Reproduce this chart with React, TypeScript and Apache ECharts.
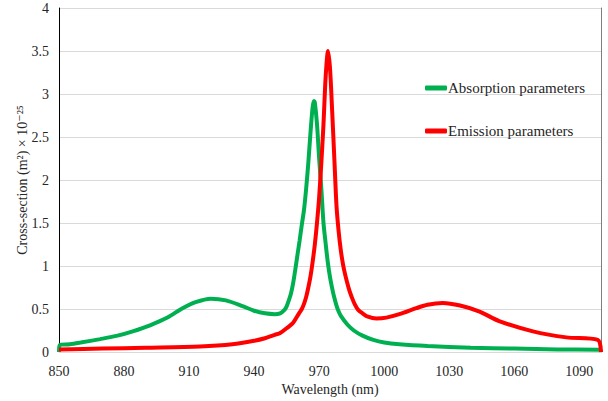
import React, { useEffect, useRef } from "react";
import * as echarts from "echarts";

const absorptionWl = [850, 850.3, 855, 860, 869, 877, 884, 892, 900, 907, 913, 920, 927, 935, 940, 945, 949.5, 952, 954, 955, 956, 957, 958, 959, 960, 961, 962, 963, 964, 965, 966, 967, 967.6, 968, 969, 970, 971, 972, 973, 974, 975, 976, 977, 978, 979, 980, 983, 986, 990, 995, 1000, 1007, 1020, 1040, 1060, 1080, 1099.5, 1100];
const absorptionVal = [0, 0.08, 0.09, 0.11, 0.15, 0.19, 0.24, 0.31, 0.4, 0.51, 0.58, 0.62, 0.6, 0.53, 0.48, 0.45, 0.44, 0.45, 0.49, 0.53, 0.6, 0.68, 0.8, 0.96, 1.13, 1.3, 1.48, 1.65, 1.9, 2.2, 2.55, 2.85, 2.92, 2.9, 2.65, 2.25, 1.9, 1.5, 1.26, 1.04, 0.87, 0.74, 0.63, 0.54, 0.47, 0.42, 0.32, 0.25, 0.19, 0.14, 0.11, 0.09, 0.07, 0.05, 0.04, 0.03, 0.027, 0];

const emissionWl = [850, 870, 890, 915, 930, 940, 945, 949.5, 952, 955.7, 958, 960, 961, 962, 963, 964, 965, 966, 967, 968, 969, 970, 971, 972, 973, 974.1, 975, 976, 977, 978, 979, 980, 981, 982, 983, 984, 985, 986.5, 988, 990, 992.5, 996.4, 1001, 1007, 1014.8, 1020, 1027, 1035, 1044, 1053, 1068.6, 1084, 1098.5, 1100];
const emissionVal = [0.03, 0.04, 0.05, 0.065, 0.09, 0.13, 0.16, 0.2, 0.22, 0.29, 0.34, 0.42, 0.46, 0.5, 0.56, 0.64, 0.75, 0.88, 1.05, 1.25, 1.5, 1.8, 2.2, 2.65, 3.2, 3.5, 3.3, 2.8, 2.25, 1.7, 1.4, 1.18, 1.02, 0.9, 0.8, 0.71, 0.64, 0.55, 0.49, 0.45, 0.41, 0.39, 0.4, 0.44, 0.51, 0.55, 0.57, 0.54, 0.47, 0.36, 0.24, 0.17, 0.14, 0];

const seriesNames = ["Absorption parameters", "Emission parameters"];
const seriesColors = ["#00b050", "#ff0000"];

const FONT = "'Liberation Serif', 'Times New Roman', Tinos, 'DejaVu Serif', serif";

export default function App() {
  const ref = useRef<HTMLDivElement>(null);
  useEffect(() => {
    if (!ref.current) return;
    const chart = echarts.init(ref.current, null, { renderer: "svg" });
    const absData = absorptionWl.map((w, i) => [w, absorptionVal[i]]);
    const emData = emissionWl.map((w, i) => [w, emissionVal[i]]);
    chart.setOption({
      animation: false,
      backgroundColor: "#ffffff",
      textStyle: { fontFamily: FONT },
      grid: { left: 59, right: 7, top: 8, bottom: 47, containLabel: false },
      legend: {
        orient: "vertical",
        left: 420,
        top: 75,
        itemWidth: 22,
        itemHeight: 5,
        itemGap: 27,
        icon: "roundRect",
        textStyle: {
          fontFamily: FONT,
          fontSize: 15,
          color: "#262626",
          lineHeight: 16,
          padding: [0, 0, 0, -4],
        },
        data: seriesNames,
      },
      xAxis: {
        type: "value",
        min: 850,
        max: 1100,
        interval: 30,
        name: "Wavelength (nm)",
        nameLocation: "middle",
        nameGap: 30,
        nameMoveOverlap: false,
        nameTextStyle: { fontFamily: FONT, fontSize: 14, color: "#262626" },
        axisLine: { show: true, lineStyle: { color: "#d9d9d9", width: 1 } },
        axisTick: { show: false },
        splitLine: { show: false },
        axisLabel: {
          fontFamily: FONT,
          fontSize: 14,
          color: "#262626",
          margin: 12,
          showMaxLabel: false,
          formatter: (v: number) => String(v),
        },
      },
      yAxis: [
        {
          type: "value",
          min: 0,
          max: 4,
          interval: 0.5,
          name: "Cross-section (m²) × 10⁻²⁵",
          nameLocation: "middle",
          nameGap: 30,
          nameMoveOverlap: false,
          nameTextStyle: { fontFamily: FONT, fontSize: 14, color: "#262626" },
          axisLine: { show: true, lineStyle: { color: "#000000", width: 1 } },
          axisTick: { show: false },
          splitLine: { show: true, lineStyle: { color: "#d9d9d9", width: 1 } },
          axisLabel: { fontFamily: FONT, fontSize: 14, color: "#262626", margin: 10, formatter: (v: number) => String(v) },
        },
        {
          type: "value",
          min: 0,
          max: 4,
          interval: 0.5,
          position: "right",
          axisLine: { show: true, lineStyle: { color: "#7f7f7f", width: 1 } },
          axisTick: { show: false },
          axisLabel: { show: false },
          splitLine: { show: false },
        },
      ],
      series: [
        {
          name: seriesNames[0],
          type: "line",
          data: absData,
          showSymbol: false,
          smooth: 0.3,
          lineStyle: { color: seriesColors[0], width: 4 },
          itemStyle: { color: seriesColors[0] },
          z: 2,
        },
        {
          name: seriesNames[1],
          type: "line",
          data: emData,
          showSymbol: false,
          smooth: 0.3,
          lineStyle: { color: seriesColors[1], width: 4 },
          itemStyle: { color: seriesColors[1] },
          z: 3,
        },
      ],
    });
    return () => chart.dispose();
  }, []);
  return <div ref={ref} style={{ position: "absolute", left: 0, top: 0, width: 608, height: 401 }} />;
}
